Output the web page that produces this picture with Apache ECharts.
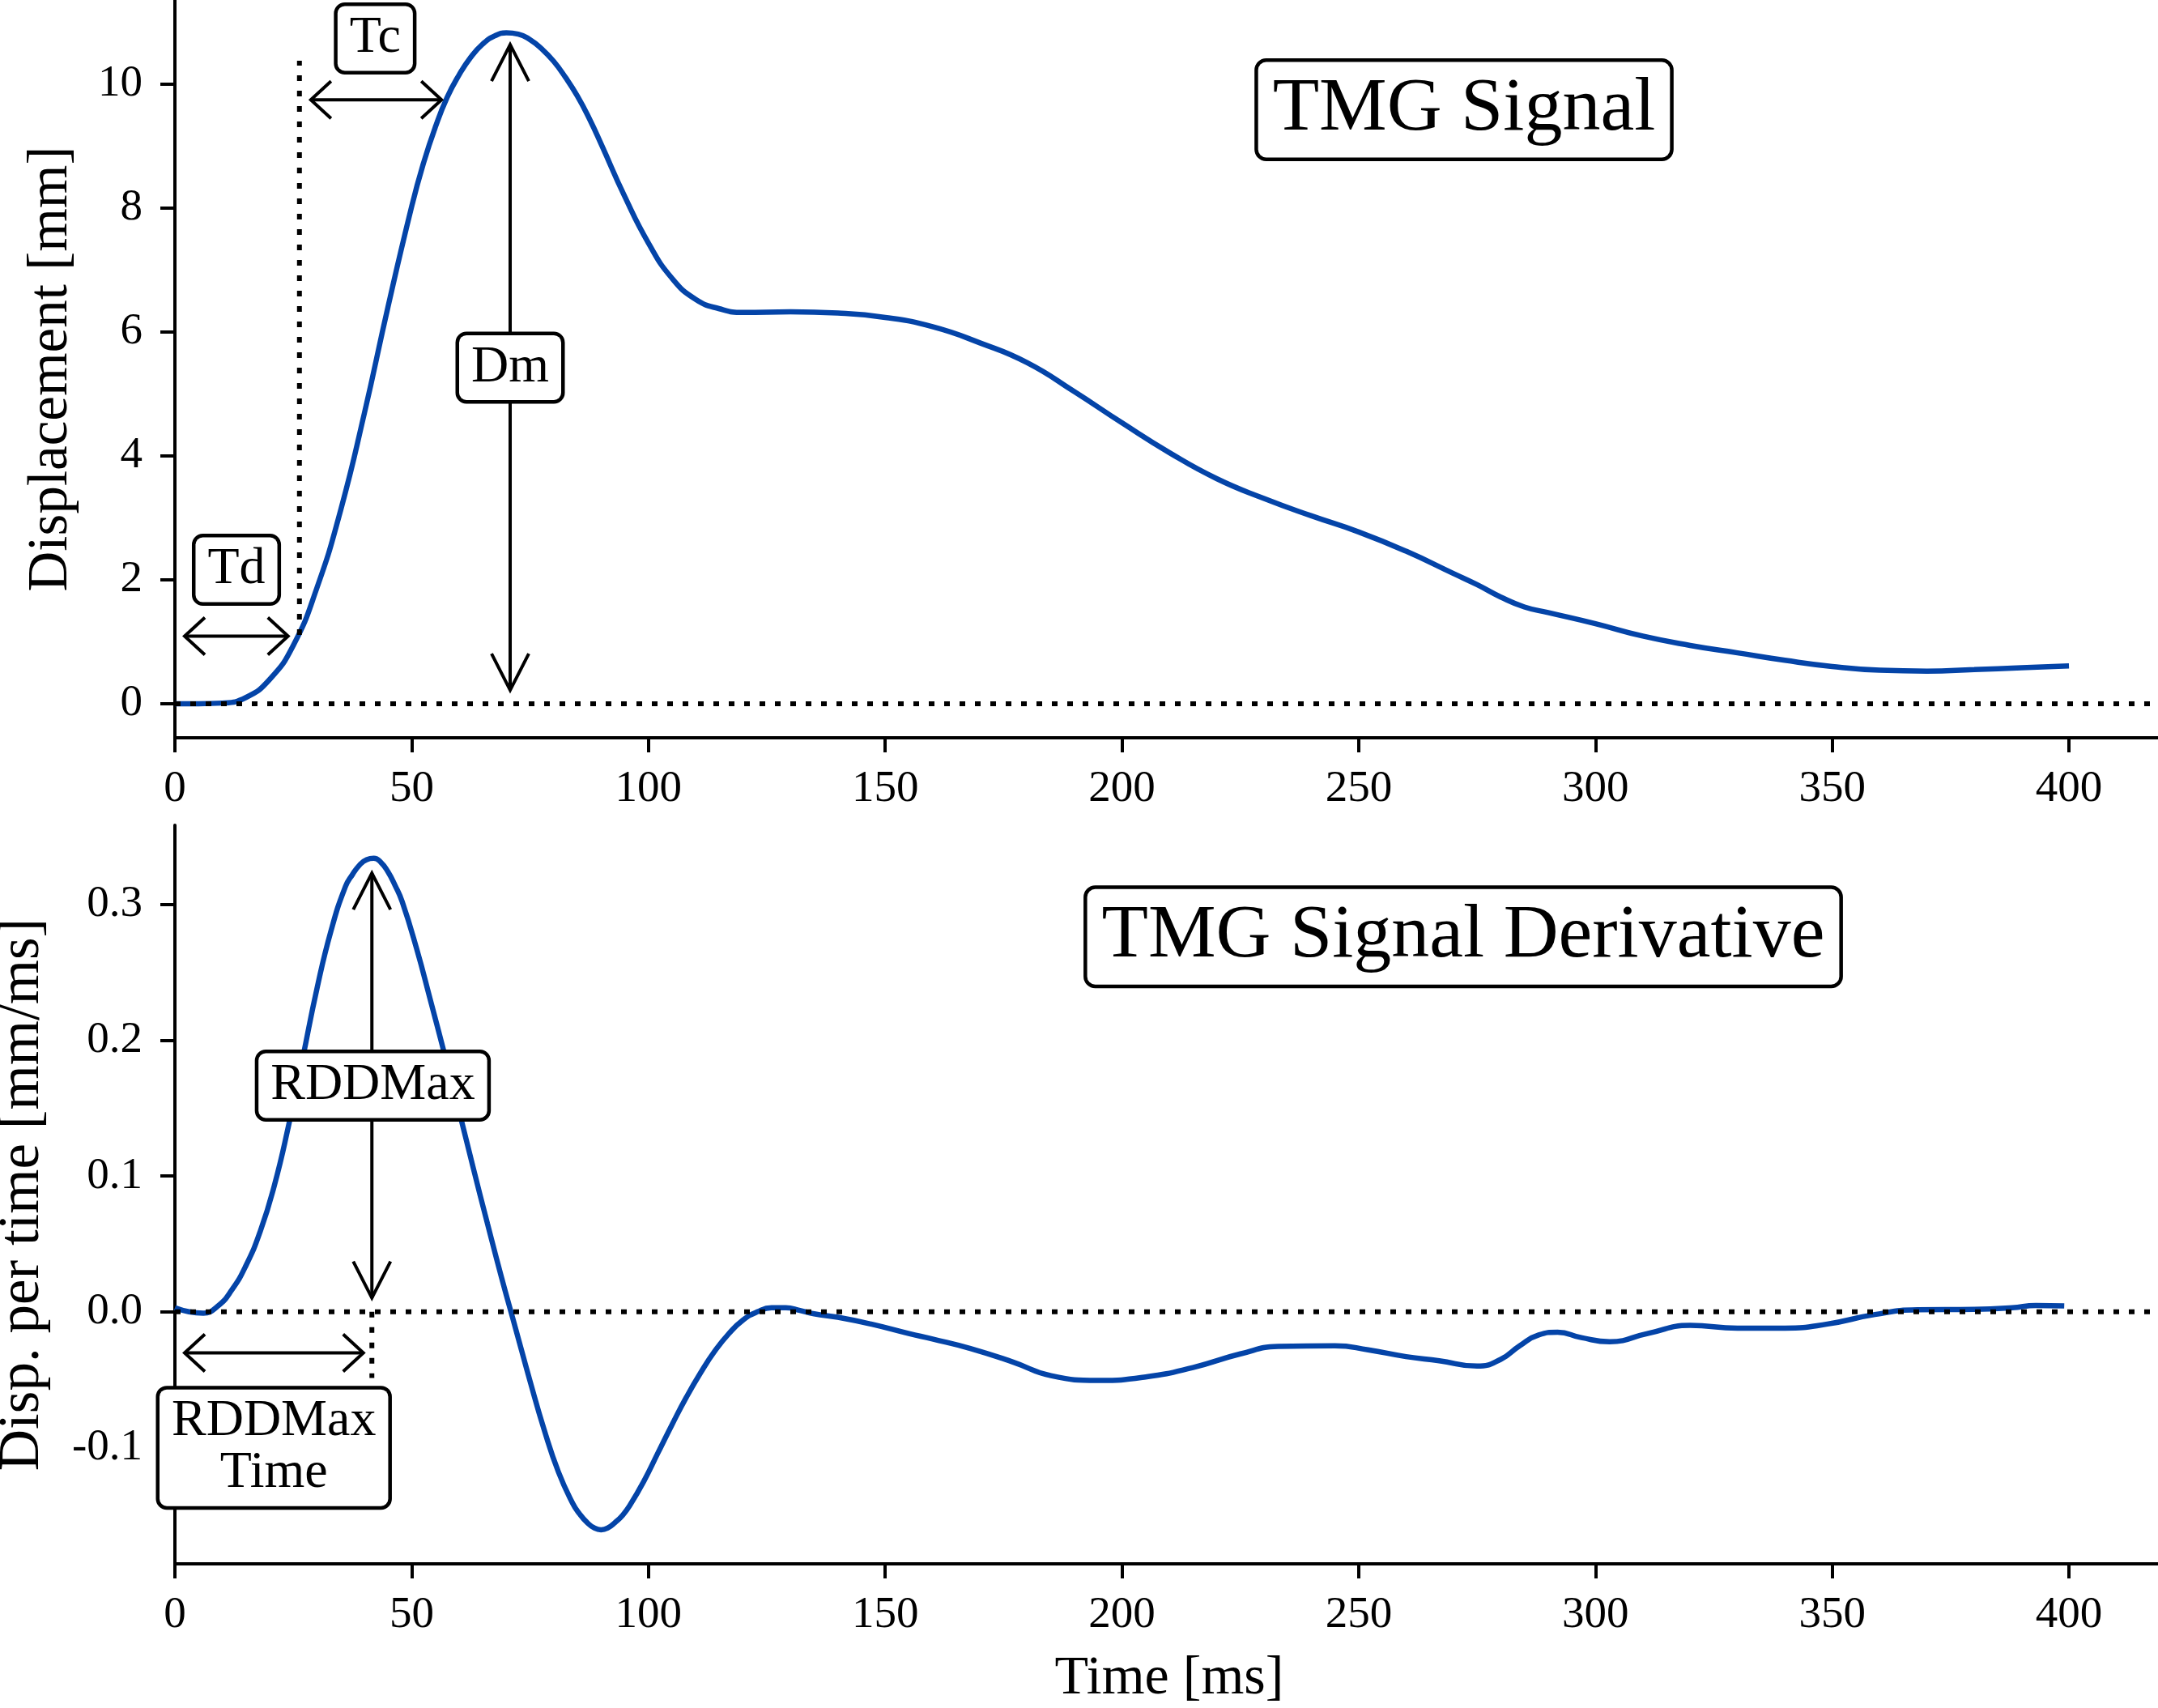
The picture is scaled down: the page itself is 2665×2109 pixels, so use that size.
<!DOCTYPE html>
<html>
<head>
<meta charset="utf-8">
<script src="https://cdn.jsdelivr.net/npm/echarts@6/dist/echarts.min.js"></script>
<style>
html,body{margin:0;padding:0;background:#fff;}
#chart{width:2665px;height:2109px;}
</style>
</head>
<body>
<div id="chart"></div>
<script>
// TMG signal: displacement [mm] against time [ms]
var sigTime=[0,5,10,15,20,25,30,35,40,45,50,52.5,55,57.5,60,62.5,65,67.5,70,72.5,75,77.5,80,82.5,85,87.5,90,95,100,105,110,115,120,130,140,150,160,170,180,190,200,210,220,230,240,250,260,270,275,280,285,290,300,310,320,330,340,350,360,370,380,390,400];
var sigDisp=[0,0,0.01,0.1,0.39,0.94,1.87,3.12,4.68,6.4,8.02,8.72,9.3,9.78,10.14,10.43,10.64,10.77,10.82,10.8,10.71,10.56,10.36,10.1,9.8,9.44,9.03,8.18,7.43,6.86,6.52,6.37,6.31,6.32,6.3,6.23,6.08,5.82,5.5,5.03,4.53,4.05,3.63,3.31,3.03,2.77,2.46,2.1,1.92,1.72,1.56,1.47,1.29,1.09,0.94,0.82,0.7,0.6,0.54,0.525,0.55,0.58,0.61];

// first derivative [mm/ms]
var derTime=[0,3,6,9,12,15,18,21,24,27,30,33,36,37.5,39,40.5,42,43.5,45,46.5,48,51,54,57,60,63,66,69,72,75,78,81,84,85.5,87,88.5,90,91.5,93,94.5,96,99,102,105,108,111,114,117,120,123,126,129,132,135,140,147,155,160,168,177,185,195,205,215,225,233,245,252,260,267,275,280,284,288,292,297,303,311,320,330,340,349,359,368,380,388,393,399];
var derVal=[0.003,0,-0.001,0.004,0.016,0.034,0.059,0.093,0.137,0.187,0.238,0.281,0.313,0.322,0.329,0.333,0.334,0.331,0.324,0.314,0.302,0.268,0.229,0.189,0.148,0.106,0.065,0.025,-0.013,-0.051,-0.087,-0.118,-0.141,-0.149,-0.155,-0.159,-0.1605,-0.159,-0.155,-0.15,-0.143,-0.125,-0.104,-0.083,-0.063,-0.045,-0.029,-0.016,-0.006,0,0.003,0.003,0.001,-0.0015,-0.004,-0.009,-0.016,-0.02,-0.027,-0.037,-0.047,-0.0505,-0.048,-0.041,-0.031,-0.0255,-0.025,-0.028,-0.033,-0.036,-0.04,-0.035,-0.025,-0.017,-0.015,-0.019,-0.022,-0.016,-0.01,-0.012,-0.012,-0.009,-0.002,0.0015,0.0018,0.003,0.0047,0.0044];

var timeTicks=[0,50,100,150,200,250,300,350,400];
var dispTicks=[0,2,4,6,8,10];
var derTicks=[-0.1,0,0.1,0.2,0.3];

// annotations, data coords: [x1,y1,x2,y2]
var topArrows=[[2.05,1.09,23.9,1.09],[28.7,9.74,56.3,9.74],[70.8,10.63,70.8,0.22]];
var topDotted=[[0,0,420,0],[26.3,1.11,26.3,10.37]];
var topBoxPos=[[13.0,2.16],[42.3,10.73],[70.8,5.42]];
var topBoxText=['Td','Tc','Dm'];

var botArrows=[[41.6,0.323,41.6,0.0102],[2.05,-0.0302,39.8,-0.0302]];
var botDotted=[[0,0,420,0],[41.6,0,41.6,-0.0488]];
var botBoxPos=[[41.8,0.1666],[20.9,-0.1001]];
var botBoxText=['RDDMax','RDDMax\nTime'];

var FONT='"Liberation Serif", "Times New Roman", serif';
var BLUE='#0444a8';

function pairs(xs,ys){
    return xs.map(function(x,i){return [x,ys[i]];});
}

function drawArrow(params,api){
    var a=api.coord([api.value(0),api.value(1)]);
    var b=api.coord([api.value(2),api.value(3)]);
    var dx=b[0]-a[0],dy=b[1]-a[1];
    var d=Math.sqrt(dx*dx+dy*dy);
    var ux=dx/d,uy=dy/d;
    var len=25*Math.abs(ux)+45*Math.abs(uy),hw=23;
    function head(tip,sx,sy){
        var bx=tip[0]-sx*len,by=tip[1]-sy*len;
        return [[bx-sy*hw,by+sx*hw],tip,[bx+sy*hw,by-sx*hw]];
    }
    var st={stroke:'#000',lineWidth:4,fill:null};
    return {
        type:'group',
        children:[
            {type:'line',shape:{x1:a[0],y1:a[1],x2:b[0],y2:b[1]},style:st},
            {type:'polyline',shape:{points:head(b,ux,uy)},style:st},
            {type:'polyline',shape:{points:head(a,-ux,-uy)},style:st}
        ]
    };
}

function drawDotted(params,api){
    var a=api.coord([api.value(0),api.value(1)]);
    var b=api.coord([api.value(2),api.value(3)]);
    return {
        type:'line',
        shape:{x1:a[0],y1:a[1],x2:b[0],y2:b[1]},
        style:{stroke:'#000',lineWidth:6,lineDash:[7,12],lineCap:'butt'}
    };
}

function boxRenderer(texts){
    return function(params,api){
        var p=api.coord([api.value(0),api.value(1)]);
        return {
            type:'text',
            x:p[0],
            y:p[1],
            style:{
                text:texts[params.dataIndex],
                fontSize:64,
                fontFamily:FONT,
                fill:'#000',
                align:'center',
                verticalAlign:'middle',
                lineHeight:64,
                backgroundColor:'#fff',
                borderColor:'#000',
                borderWidth:4.5,
                borderRadius:9,
                padding:[8,15]
            }
        };
    };
}

function xAxisCfg(idx,named){
    return {
        gridIndex:idx,
        type:'value',
        min:0,
        max:420,
        name:named?'Time [ms]':'',
        nameLocation:'middle',
        nameGap:108,
        nameTextStyle:{fontSize:68,fontFamily:FONT,color:'#000'},
        axisLine:{onZero:false,lineStyle:{color:'#000',width:4}},
        axisTick:{customValues:timeTicks,length:18,lineStyle:{color:'#000',width:4}},
        axisLabel:{customValues:timeTicks,margin:36,fontSize:55,fontFamily:FONT,color:'#000'},
        splitLine:{show:false}
    };
}

function yAxisCfg(idx,name,min,max,ticks,gap,size,fmt){
    return {
        gridIndex:idx,
        type:'value',
        min:min,
        max:max,
        name:name,
        nameLocation:'middle',
        nameGap:gap,
        nameTextStyle:{fontSize:size,fontFamily:FONT,color:'#000'},
        axisLine:{onZero:false,lineStyle:{color:'#000',width:4}},
        axisTick:{customValues:ticks,length:18,lineStyle:{color:'#000',width:4}},
        axisLabel:{customValues:ticks,margin:40,fontSize:55,fontFamily:FONT,color:'#000',formatter:fmt},
        splitLine:{show:false}
    };
}

function titleBox(text,x,y){
    return {
        type:'text',
        x:x,
        y:y,
        z:100,
        style:{
            text:text,
            fontSize:94,
            fontFamily:FONT,
            fill:'#000',
            align:'center',
            verticalAlign:'middle',
            lineHeight:98,
            backgroundColor:'#fff',
            borderColor:'#000',
            borderWidth:4.5,
            borderRadius:10,
            padding:[10,18]
        }
    };
}

var chart=echarts.init(document.getElementById('chart'),null,{renderer:'canvas'});

var option={
    backgroundColor:'#fff',
    animation:false,
    grid:[
        {left:216,right:-7,top:0,height:911,outerBoundsMode:'none'},
        {left:216,right:-7,top:1019,height:912,outerBoundsMode:'none'}
    ],
    xAxis:[xAxisCfg(0,false),xAxisCfg(1,true)],
    yAxis:[
        yAxisCfg(0,'Displacement [mm]',-0.55,11.35,dispTicks,118,69,function(v){return String(v);}),
        yAxisCfg(1,'Disp. per time [mm/ms]',-0.1856,0.3583,derTicks,152,71,function(v){return v.toFixed(1);})
    ],
    graphic:[
        titleBox('TMG Signal',1808,135.5),
        titleBox('TMG Signal Derivative',1807,1156.7)
    ],
    series:[
        {
            type:'line',xAxisIndex:0,yAxisIndex:0,
            data:pairs(sigTime,sigDisp),
            smooth:0.5,showSymbol:false,z:2,
            lineStyle:{color:BLUE,width:6.5}
        },
        {
            type:'line',xAxisIndex:1,yAxisIndex:1,
            data:pairs(derTime,derVal),
            smooth:0.5,showSymbol:false,z:2,
            lineStyle:{color:BLUE,width:6.5}
        },
        {type:'custom',xAxisIndex:0,yAxisIndex:0,data:topDotted,encode:{x:[0,2],y:[1,3]},renderItem:drawDotted,z:3,clip:false},
        {type:'custom',xAxisIndex:1,yAxisIndex:1,data:botDotted,encode:{x:[0,2],y:[1,3]},renderItem:drawDotted,z:3,clip:false},
        {type:'custom',xAxisIndex:0,yAxisIndex:0,data:topArrows,encode:{x:[0,2],y:[1,3]},renderItem:drawArrow,z:4},
        {type:'custom',xAxisIndex:1,yAxisIndex:1,data:botArrows,encode:{x:[0,2],y:[1,3]},renderItem:drawArrow,z:4},
        {type:'custom',xAxisIndex:0,yAxisIndex:0,data:topBoxPos,encode:{x:0,y:1},renderItem:boxRenderer(topBoxText),z:5},
        {type:'custom',xAxisIndex:1,yAxisIndex:1,data:botBoxPos,encode:{x:0,y:1},renderItem:boxRenderer(botBoxText),z:5}
    ]
};

chart.setOption(option);
</script>
</body>
</html>
